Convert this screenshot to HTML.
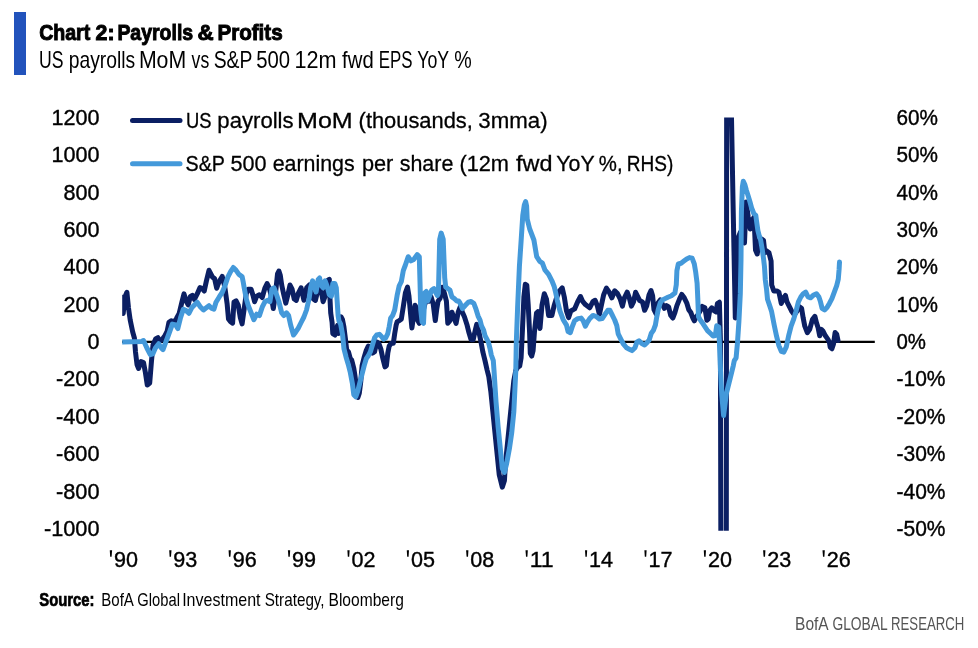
<!DOCTYPE html>
<html><head><meta charset="utf-8"><style>
html,body{margin:0;padding:0;background:#fff;}
body{width:978px;height:648px;overflow:hidden;}
svg{display:block;font-family:"Liberation Sans",sans-serif;will-change:transform;}
</style></head><body>
<svg width="978" height="648" viewBox="0 0 978 648">
<defs><clipPath id="pa"><rect x="122.2" y="117.6" width="760" height="413.19999999999993"/></clipPath></defs>
<rect x="14" y="12" width="12" height="63" fill="#2253bc"/>
<text x="39.14" y="40" font-size="22.8" font-weight="bold" stroke="#000" stroke-width="1.0" fill="#000" textLength="51.11" lengthAdjust="spacingAndGlyphs">Chart</text>
<text x="95.56" y="40" font-size="22.8" font-weight="bold" stroke="#000" stroke-width="1.0" fill="#000" textLength="18.97" lengthAdjust="spacingAndGlyphs">2:</text>
<text x="117.39" y="40" font-size="22.8" font-weight="bold" stroke="#000" stroke-width="1.0" fill="#000" textLength="75.82" lengthAdjust="spacingAndGlyphs">Payrolls</text>
<text x="197.52" y="40" font-size="22.8" font-weight="bold" stroke="#000" stroke-width="1.0" fill="#000" textLength="16.14" lengthAdjust="spacingAndGlyphs">&amp;</text>
<text x="217.39" y="40" font-size="22.8" font-weight="bold" stroke="#000" stroke-width="1.0" fill="#000" textLength="65.30" lengthAdjust="spacingAndGlyphs">Profits</text>
<text x="39.11" y="67.6" font-size="23.6" fill="#000" textLength="24.48" lengthAdjust="spacingAndGlyphs">US</text>
<text x="68.76" y="67.6" font-size="23.6" fill="#000" textLength="66.51" lengthAdjust="spacingAndGlyphs">payrolls</text>
<text x="138.90" y="67.6" font-size="23.6" fill="#000" textLength="47.30" lengthAdjust="spacingAndGlyphs">MoM</text>
<text x="191.60" y="67.6" font-size="23.6" fill="#000" textLength="17.64" lengthAdjust="spacingAndGlyphs">vs</text>
<text x="213.68" y="67.6" font-size="23.6" fill="#000" textLength="38.72" lengthAdjust="spacingAndGlyphs">S&amp;P</text>
<text x="256.24" y="67.6" font-size="23.6" fill="#000" textLength="33.88" lengthAdjust="spacingAndGlyphs">500</text>
<text x="294.47" y="67.6" font-size="23.6" fill="#000" textLength="42.08" lengthAdjust="spacingAndGlyphs">12m</text>
<text x="342.10" y="67.6" font-size="23.6" fill="#000" textLength="31.58" lengthAdjust="spacingAndGlyphs">fwd</text>
<text x="378.67" y="67.6" font-size="23.6" fill="#000" textLength="33.80" lengthAdjust="spacingAndGlyphs">EPS</text>
<text x="417.25" y="67.6" font-size="23.6" fill="#000" textLength="31.88" lengthAdjust="spacingAndGlyphs">YoY</text>
<text x="454.37" y="67.6" font-size="23.6" fill="#000" textLength="17.45" lengthAdjust="spacingAndGlyphs">%</text>
<text x="185.93" y="128.4" font-size="22" stroke="#000" stroke-width="0.3" fill="#000" textLength="25.54" lengthAdjust="spacingAndGlyphs">US</text>
<text x="217.39" y="128.4" font-size="22" stroke="#000" stroke-width="0.3" fill="#000" textLength="76.22" lengthAdjust="spacingAndGlyphs">payrolls</text>
<text x="297.02" y="128.4" font-size="22" stroke="#000" stroke-width="0.3" fill="#000" textLength="55.74" lengthAdjust="spacingAndGlyphs">MoM</text>
<text x="358.61" y="128.4" font-size="22" stroke="#000" stroke-width="0.3" fill="#000" textLength="114.25" lengthAdjust="spacingAndGlyphs">(thousands,</text>
<text x="478.29" y="128.4" font-size="22" stroke="#000" stroke-width="0.3" fill="#000" textLength="69.28" lengthAdjust="spacingAndGlyphs">3mma)</text>
<text x="185.60" y="171.0" font-size="22" stroke="#000" stroke-width="0.3" fill="#000" textLength="39.42" lengthAdjust="spacingAndGlyphs">S&amp;P</text>
<text x="230.42" y="171.0" font-size="22" stroke="#000" stroke-width="0.3" fill="#000" textLength="36.09" lengthAdjust="spacingAndGlyphs">500</text>
<text x="272.63" y="171.0" font-size="22" stroke="#000" stroke-width="0.3" fill="#000" textLength="82.05" lengthAdjust="spacingAndGlyphs">earnings</text>
<text x="361.91" y="171.0" font-size="22" stroke="#000" stroke-width="0.3" fill="#000" textLength="31.39" lengthAdjust="spacingAndGlyphs">per</text>
<text x="399.73" y="171.0" font-size="22" stroke="#000" stroke-width="0.3" fill="#000" textLength="53.59" lengthAdjust="spacingAndGlyphs">share</text>
<text x="459.41" y="171.0" font-size="22" stroke="#000" stroke-width="0.3" fill="#000" textLength="49.60" lengthAdjust="spacingAndGlyphs">(12m</text>
<text x="516.10" y="171.0" font-size="22" stroke="#000" stroke-width="0.3" fill="#000" textLength="36.43" lengthAdjust="spacingAndGlyphs">fwd</text>
<text x="556.33" y="171.0" font-size="22" stroke="#000" stroke-width="0.3" fill="#000" textLength="38.33" lengthAdjust="spacingAndGlyphs">YoY</text>
<text x="598.87" y="171.0" font-size="22" stroke="#000" stroke-width="0.3" fill="#000" textLength="23.79" lengthAdjust="spacingAndGlyphs">%,</text>
<text x="626.67" y="171.0" font-size="22" stroke="#000" stroke-width="0.3" fill="#000" textLength="46.61" lengthAdjust="spacingAndGlyphs">RHS)</text>
<text x="39.29" y="606" font-size="18.4" font-weight="bold" stroke="#000" stroke-width="0.7" fill="#000" textLength="55.20" lengthAdjust="spacingAndGlyphs">Source:</text>
<text x="101.26" y="606" font-size="18.4" fill="#000" textLength="32.63" lengthAdjust="spacingAndGlyphs">BofA</text>
<text x="137.30" y="606" font-size="18.4" fill="#000" textLength="42.64" lengthAdjust="spacingAndGlyphs">Global</text>
<text x="182.16" y="606" font-size="18.4" fill="#000" textLength="78.40" lengthAdjust="spacingAndGlyphs">Investment</text>
<text x="264.67" y="606" font-size="18.4" fill="#000" textLength="59.95" lengthAdjust="spacingAndGlyphs">Strategy,</text>
<text x="328.51" y="606" font-size="18.4" fill="#000" textLength="75.29" lengthAdjust="spacingAndGlyphs">Bloomberg</text>
<text x="795.11" y="629.5" font-size="18.3" fill="#555" textLength="33.59" lengthAdjust="spacingAndGlyphs">BofA</text>
<text x="832.44" y="629.5" font-size="18.3" fill="#555" textLength="55.29" lengthAdjust="spacingAndGlyphs">GLOBAL</text>
<text x="891.06" y="629.5" font-size="18.3" fill="#555" textLength="73.19" lengthAdjust="spacingAndGlyphs">RESEARCH</text>
<text x="99.5" y="124.7" font-size="22.3" text-anchor="end" textLength="48.0" lengthAdjust="spacingAndGlyphs" stroke="#000" stroke-width="0.4">1200</text>
<text x="99.5" y="162.1" font-size="22.3" text-anchor="end" textLength="48.0" lengthAdjust="spacingAndGlyphs" stroke="#000" stroke-width="0.4">1000</text>
<text x="99.5" y="199.5" font-size="22.3" text-anchor="end" textLength="36.0" lengthAdjust="spacingAndGlyphs" stroke="#000" stroke-width="0.4">800</text>
<text x="99.5" y="236.9" font-size="22.3" text-anchor="end" textLength="36.0" lengthAdjust="spacingAndGlyphs" stroke="#000" stroke-width="0.4">600</text>
<text x="99.5" y="274.3" font-size="22.3" text-anchor="end" textLength="36.0" lengthAdjust="spacingAndGlyphs" stroke="#000" stroke-width="0.4">400</text>
<text x="99.5" y="311.6" font-size="22.3" text-anchor="end" textLength="36.0" lengthAdjust="spacingAndGlyphs" stroke="#000" stroke-width="0.4">200</text>
<text x="99.5" y="349.0" font-size="22.3" text-anchor="end" textLength="12.0" lengthAdjust="spacingAndGlyphs" stroke="#000" stroke-width="0.4">0</text>
<text x="99.5" y="386.4" font-size="22.3" text-anchor="end" textLength="43.5" lengthAdjust="spacingAndGlyphs" stroke="#000" stroke-width="0.4">-200</text>
<text x="99.5" y="423.8" font-size="22.3" text-anchor="end" textLength="43.5" lengthAdjust="spacingAndGlyphs" stroke="#000" stroke-width="0.4">-400</text>
<text x="99.5" y="461.2" font-size="22.3" text-anchor="end" textLength="43.5" lengthAdjust="spacingAndGlyphs" stroke="#000" stroke-width="0.4">-600</text>
<text x="99.5" y="498.6" font-size="22.3" text-anchor="end" textLength="43.5" lengthAdjust="spacingAndGlyphs" stroke="#000" stroke-width="0.4">-800</text>
<text x="99.5" y="536.0" font-size="22.3" text-anchor="end" textLength="55.5" lengthAdjust="spacingAndGlyphs" stroke="#000" stroke-width="0.4">-1000</text>
<text x="896.5" y="124.7" font-size="22.3" textLength="41.5" lengthAdjust="spacingAndGlyphs" stroke="#000" stroke-width="0.4">60%</text>
<text x="896.5" y="162.1" font-size="22.3" textLength="41.5" lengthAdjust="spacingAndGlyphs" stroke="#000" stroke-width="0.4">50%</text>
<text x="896.5" y="199.5" font-size="22.3" textLength="41.5" lengthAdjust="spacingAndGlyphs" stroke="#000" stroke-width="0.4">40%</text>
<text x="896.5" y="236.9" font-size="22.3" textLength="41.5" lengthAdjust="spacingAndGlyphs" stroke="#000" stroke-width="0.4">30%</text>
<text x="896.5" y="274.3" font-size="22.3" textLength="41.5" lengthAdjust="spacingAndGlyphs" stroke="#000" stroke-width="0.4">20%</text>
<text x="896.5" y="311.6" font-size="22.3" textLength="41.5" lengthAdjust="spacingAndGlyphs" stroke="#000" stroke-width="0.4">10%</text>
<text x="896.5" y="349.0" font-size="22.3" textLength="29.5" lengthAdjust="spacingAndGlyphs" stroke="#000" stroke-width="0.4">0%</text>
<text x="896.5" y="386.4" font-size="22.3" textLength="49.0" lengthAdjust="spacingAndGlyphs" stroke="#000" stroke-width="0.4">-10%</text>
<text x="896.5" y="423.8" font-size="22.3" textLength="49.0" lengthAdjust="spacingAndGlyphs" stroke="#000" stroke-width="0.4">-20%</text>
<text x="896.5" y="461.2" font-size="22.3" textLength="49.0" lengthAdjust="spacingAndGlyphs" stroke="#000" stroke-width="0.4">-30%</text>
<text x="896.5" y="498.6" font-size="22.3" textLength="49.0" lengthAdjust="spacingAndGlyphs" stroke="#000" stroke-width="0.4">-40%</text>
<text x="896.5" y="536.0" font-size="22.3" textLength="49.0" lengthAdjust="spacingAndGlyphs" stroke="#000" stroke-width="0.4">-50%</text>
<text x="113.9" y="566.8" font-size="22.8" textLength="24.0" lengthAdjust="spacingAndGlyphs" stroke="#000" stroke-width="0.4">90</text>
<path d="M109.8 550.3 L112.1 550.3 L111.6 556.8 L110.2 556.8 Z" fill="#000"/>
<text x="173.3" y="566.8" font-size="22.8" textLength="24.0" lengthAdjust="spacingAndGlyphs" stroke="#000" stroke-width="0.4">93</text>
<path d="M169.2 550.3 L171.5 550.3 L171.0 556.8 L169.6 556.8 Z" fill="#000"/>
<text x="232.7" y="566.8" font-size="22.8" textLength="24.0" lengthAdjust="spacingAndGlyphs" stroke="#000" stroke-width="0.4">96</text>
<path d="M228.6 550.3 L230.9 550.3 L230.4 556.8 L229.0 556.8 Z" fill="#000"/>
<text x="292.1" y="566.8" font-size="22.8" textLength="24.0" lengthAdjust="spacingAndGlyphs" stroke="#000" stroke-width="0.4">99</text>
<path d="M287.9 550.3 L290.2 550.3 L289.8 556.8 L288.4 556.8 Z" fill="#000"/>
<text x="351.5" y="566.8" font-size="22.8" textLength="24.0" lengthAdjust="spacingAndGlyphs" stroke="#000" stroke-width="0.4">02</text>
<path d="M347.4 550.3 L349.6 550.3 L349.2 556.8 L347.8 556.8 Z" fill="#000"/>
<text x="410.9" y="566.8" font-size="22.8" textLength="24.0" lengthAdjust="spacingAndGlyphs" stroke="#000" stroke-width="0.4">05</text>
<path d="M406.8 550.3 L409.0 550.3 L408.6 556.8 L407.2 556.8 Z" fill="#000"/>
<text x="470.3" y="566.8" font-size="22.8" textLength="24.0" lengthAdjust="spacingAndGlyphs" stroke="#000" stroke-width="0.4">08</text>
<path d="M466.1 550.3 L468.4 550.3 L468.0 556.8 L466.6 556.8 Z" fill="#000"/>
<text x="529.7" y="566.8" font-size="22.8" textLength="24.0" lengthAdjust="spacingAndGlyphs" stroke="#000" stroke-width="0.4">11</text>
<path d="M525.5 550.3 L527.8 550.3 L527.4 556.8 L526.0 556.8 Z" fill="#000"/>
<text x="589.1" y="566.8" font-size="22.8" textLength="24.0" lengthAdjust="spacingAndGlyphs" stroke="#000" stroke-width="0.4">14</text>
<path d="M585.0 550.3 L587.2 550.3 L586.8 556.8 L585.4 556.8 Z" fill="#000"/>
<text x="648.5" y="566.8" font-size="22.8" textLength="24.0" lengthAdjust="spacingAndGlyphs" stroke="#000" stroke-width="0.4">17</text>
<path d="M644.4 550.3 L646.6 550.3 L646.2 556.8 L644.8 556.8 Z" fill="#000"/>
<text x="707.9" y="566.8" font-size="22.8" textLength="24.0" lengthAdjust="spacingAndGlyphs" stroke="#000" stroke-width="0.4">20</text>
<path d="M703.8 550.3 L706.0 550.3 L705.6 556.8 L704.2 556.8 Z" fill="#000"/>
<text x="767.3" y="566.8" font-size="22.8" textLength="24.0" lengthAdjust="spacingAndGlyphs" stroke="#000" stroke-width="0.4">23</text>
<path d="M763.1 550.3 L765.4 550.3 L765.0 556.8 L763.6 556.8 Z" fill="#000"/>
<text x="826.7" y="566.8" font-size="22.8" textLength="24.0" lengthAdjust="spacingAndGlyphs" stroke="#000" stroke-width="0.4">26</text>
<path d="M822.5 550.3 L824.8 550.3 L824.4 556.8 L823.0 556.8 Z" fill="#000"/>
<line x1="122" y1="341.9" x2="874.8" y2="341.9" stroke="#000" stroke-width="2.2"/>
<line x1="132.5" y1="120.6" x2="180" y2="120.6" stroke="#0b1f63" stroke-width="5" stroke-linecap="round"/>
<line x1="132.5" y1="163.8" x2="180" y2="163.8" stroke="#4499da" stroke-width="5" stroke-linecap="round"/>
<g clip-path="url(#pa)" fill="none" stroke-linejoin="round" stroke-linecap="round" stroke-width="5">
<polyline stroke="#0b1f63" points="121.5,297 123.2,313.5 124.9,297 126.9,292.3 128.5,308 130.2,320 132.7,332 134.4,338 135.5,352 137,364.5 138.6,368.5 141,361.5 143.5,362.5 145.4,372.5 147.3,385 149.7,383 151.4,362 153,345 155.6,339 157.9,337.7 159.6,341.1 162.1,339.4 164.7,336 167.2,331 168.9,322.4 171.5,320.7 174,322.4 176.6,318.2 179.2,313.3 181.9,302.2 184,293.9 186.1,300.8 188.2,305 190.3,296.7 192.4,295.3 194.4,299.4 197.2,293.9 200,287.6 202.1,288.3 204.2,291.1 206.3,281.4 209,270.3 211.1,274.4 212.5,277.2 214.6,278.6 216.7,288.3 218.1,284.2 220.1,280 222.2,276.5 223.6,281.4 225,288.3 227.1,303.6 228.5,318.9 230.6,321.7 232.6,323.1 234,302.2 236.1,300.8 238.2,305 240.3,317.5 242.1,323.9 244.2,308.6 246.3,293.3 248.3,289.2 251.1,289.2 253.2,296.1 254.6,301.7 256.7,296.1 259.4,294.7 262.2,297.5 265,287.8 267.1,283.6 269.2,287.8 271.3,296.1 273.3,308.6 275.4,294.7 277.5,273.9 278.9,271.1 280.3,275.3 281.7,285 283.8,294.7 285.8,303.1 287.9,294.7 290,285 292.1,289.2 294.2,298.9 296.3,300.3 298.3,293.3 301.1,287.8 303.9,300.3 306.7,287.8 309.4,285 310.6,290 312.5,296 313.3,298.9 315.4,300.3 316.8,294.7 318.9,287.8 321.7,293.3 323.1,301.7 325.1,296.1 327.2,280.8 329.3,279.4 330,298.9 330.7,312.8 332.1,322.5 332.8,333.6 334.9,335 336.3,329.4 337.6,325.3 338.3,333.6 339.7,321.1 341.1,316.9 342.5,319.7 343.9,326.7 345.3,337.8 346.7,350 348.5,352 350.3,358.6 351.7,360 353.8,368.3 355.1,376.7 356.5,387.8 357.9,397.5 359.3,393.3 360.7,382.2 362.1,365.6 364.2,357.2 366.3,350.3 368.3,346.1 370.4,348.9 372.5,353.1 374.6,351.7 376.7,341.9 378.8,343.3 380.8,348.9 382.9,358.6 385,366.9 386.4,365.6 387.8,353.1 389.2,346.1 391.3,343.3 393.3,343.3 394.7,333.6 396.1,325.3 397.1,321.9 399.2,320.6 401.3,319.2 403.3,306.7 405.4,292.8 407.5,287.2 408.9,295.6 410.3,311 411.9,328 413.8,315 415.1,305.3 416.5,308.1 417.9,320.6 419.3,323.3 422.8,312.2 424.9,303.9 426.9,299.7 429,301.1 431.1,296.9 433.2,303.9 435.3,320.6 436.7,309.4 438.1,301.1 440.1,298.3 442.2,287.2 444.3,292.8 446.4,301.1 447.8,323.3 449.9,320.6 451.9,312.2 454,317.8 456.1,323.3 458.2,312.2 460.3,306.7 462.4,312.2 464.5,317 466.9,324.4 469,332.8 471.1,339.7 473.2,339.7 475.3,330 476.7,324.4 478.8,331.4 480.8,341.1 482.9,352.2 485,360.6 487.1,370 488.8,376.7 490.8,391.3 492.9,412.1 495,432.9 497.1,453.8 499.2,474.6 502.3,487.1 504.4,480.8 505.4,464.2 507.5,443.3 509.6,422.5 511.7,401.7 513.8,380.8 515.8,370.4 518,367 519.7,366.1 521.1,357.8 522.5,328.6 523.9,296.7 525.3,284.2 526.8,285.3 528.2,304.7 529.6,332.5 530.3,353.3 531.7,356.1 533.1,350.6 534.4,332.5 536.5,313.1 537.9,311.7 540,328.4 542,305 544.3,293.8 546.5,299.2 548.6,315.4 551.9,315.4 554.1,305.7 556.5,298 558.9,291.6 562.2,287.8 564.3,297 566.5,311 568.6,317.6 570.8,311 574.6,308.9 577.8,301.4 580.5,296.5 582.7,301.4 585.4,304.6 589.7,307.8 593,301.4 595.1,300.3 597.3,305.7 599.4,314.4 601.5,304.7 603.6,295 606.4,288.1 609.2,292.2 611.9,297.8 614.7,290.8 617.5,293.6 620.3,299.2 622.4,306.1 624.4,297.8 627.2,292.2 629.3,297.8 631.4,306.1 633.5,301.9 635.6,292.2 637.6,296.4 639.7,300.6 642.5,301.9 644.6,310.3 646.7,306 649,295 651,290.5 652.6,295.8 654,309.7 656.1,313.9 658.2,302.8 660.3,300 662.4,304.2 664.4,308.3 666.5,305.6 668.6,306.9 670.7,315.3 672.8,318.1 674.9,312.5 676.9,305.6 679.7,298.6 681.8,294.4 683.9,297.2 686.7,302.8 688.8,309.7 690.8,312.5 692.9,318.1 694.3,320.8 696.4,316.7 698.5,313.9 700.6,310 702.1,306.4 704.9,307.8 706.9,320.3 708.3,318.9 709.7,310.6 711.8,307.8 713.9,310.6 716,311.9 717.4,303.6 719.4,302.2 720.4,340 721.2,700 726.2,700 726.8,-100 729.8,60 731.5,118 733,200 735.3,318 737,300 738.5,237 740.5,232 742,236 744.5,243 746.1,202 748.2,216.7 750.3,229 752,221 754,217 755.5,250 757.2,254 759.3,240.3 761.4,239 763.5,240.3 764.9,252.8 766.3,250.7 769,252.8 771.1,261.1 771.7,285 773.8,291 776.9,291 778.9,292.1 781.3,303.5 783,298.6 785.4,295.4 787,301.9 789.4,306.7 791.9,311.6 794.3,314.8 796.7,311.6 799.2,306.7 801.6,308.3 803.2,318.1 804.8,326.2 807.3,332.7 809.7,329.4 812.4,319.6 814.9,316.4 816.5,322.9 818.1,327.7 819.7,335.8 821.3,329.4 823,331 825.4,335.8 827.8,339.1 829.4,342.3 830.2,347.2 831.9,348.8 833.5,343.9 835.1,332.6 836.7,334.2 838,340.5"/>
<polyline stroke="#4499da" points="120,342 141.8,341.5 143.5,340.5 146.9,348 150.3,354.7 152.8,353.9 155.4,348 158.7,343.7 161.3,348 163,349.6 165.5,342.8 168.1,336 170.6,329.2 172.3,324.1 175.7,325 177.8,328.6 180.6,317.5 183.3,309.2 186.1,310.6 188.9,313.3 191.7,307.8 194.4,305 197.2,302.2 200,306.4 203.5,309.9 206.3,307.8 209,305.7 211.8,308.5 213.9,309.2 216,302.2 219.4,296.7 222.2,292.5 225,285.6 227.8,277.2 230.6,271.7 233.3,267.5 236.1,270.3 238.9,274.4 241,275.8 242.1,276.5 243.1,281.4 244.2,287.8 246.3,298.9 248.3,305.8 251.1,312.8 253.9,319.7 256.7,314.2 259.4,315.6 262.2,307.2 265,301.7 267.8,300.3 269.9,301.7 271.9,289.2 274,287.8 276.1,293.3 278.9,301.7 281.7,312.8 283.8,315.6 286.5,312.8 288.6,315.6 290.7,325.3 293.5,335 295.6,332.2 298.3,328.1 301.1,322.5 303.9,317 306.5,310 309.2,298 310.6,287.8 312.6,280.8 314,285 316.1,291.9 318.2,279.4 319.6,278 321,285 323.1,287.8 325.1,280.8 327.2,286.4 329.3,294.7 331.4,296.1 332.8,283.6 334.9,283.6 336.3,287.8 337.2,301.7 338.1,315.6 339,321.1 340.6,323.9 342.6,335 344,348.9 346.1,357.2 348.2,364.2 350.3,372.5 352.4,383.6 353.8,394.7 355.8,396.8 357.9,390.6 360,382.2 362.1,373.9 364.2,365.6 366.3,358.6 368.3,355.8 370.4,351.7 372.5,344.7 374.6,337.8 376.7,335 379.4,334.3 381.5,336.4 383.6,339.2 385.7,337.8 387.8,333.6 389.2,326.7 390.6,318.3 392.6,315.6 394.7,310 397.1,295.6 399.2,285.8 401.3,281.7 403.3,270.6 405.4,265 408.2,256.7 411,260.8 413.8,259.4 417.2,254.6 419.3,256.7 420,281.7 420.7,309.4 422.1,321.9 423.5,323.3 424.9,292.8 426.3,291.4 427.6,301.1 429.7,295.6 431.8,290 433.9,288.6 436,292.8 437.4,295.6 438.4,293.2 439.7,239.3 441.2,233.1 443.2,239.3 444.7,277.8 445.7,287 447.8,288.6 449.9,290 451.9,296.9 454,298.3 456.8,301.1 458.6,300.9 460,303 462.4,308.6 465.6,305 468.3,302.2 471.1,301.5 473.9,303.6 476,309.2 478.1,316.1 480.1,320.3 481.5,325.8 483.6,330 485,335.6 487.1,339.7 488.5,342.5 489.9,348.1 491.3,355 493.3,360.6 494,370.4 496,401.7 498.1,426.7 500.2,447.5 502.3,468.3 504.4,472.5 506.5,464.2 509.6,447.5 511.7,432.9 513.8,412.1 514.8,391.3 515.8,370.4 516.3,342.5 517.6,307.8 519.4,266.5 521.1,241 522.8,215 524.3,205 525.6,201.5 526.6,206 527.2,219 529.7,229 533.9,240 536.7,256.7 539.8,261.4 539.8,261.4 542.4,263.1 544.9,269.9 548.6,274.3 551.9,280.8 554.1,286.2 555.7,292.7 557.3,300.3 560,311.1 563.2,319.7 566.5,325.1 568.1,331.6 570.3,332.7 572.4,326.2 574.6,320.8 577.8,318.6 581.1,318.1 583.2,320.8 585.4,326.2 587.6,321.9 589.7,318.6 593,315.4 596.2,316.5 599.4,319 602.2,318.6 605,314.4 607.8,310.3 609.9,310.3 611.9,314.4 614.7,320 616.8,325.6 618.2,333.9 620.3,338.1 623.1,343.6 626.5,347.8 629.3,349.2 632.1,350.6 634.9,347.8 636.9,342.2 639,340.8 641.8,343.6 644.6,345 647.4,342.2 649.2,340 651.3,333.3 653.3,330.6 655.4,325 656.8,316.7 658.2,309.7 660.3,302.8 662.4,300 665.1,298.6 667.9,297.2 671.4,295.8 674.9,293.1 676.3,284.7 676.9,270.8 678.3,263.9 681.1,263.2 683.9,261.1 686.7,259 689.4,257.6 692.2,258.3 694.3,263.9 695.7,272.2 697.1,283.3 697.8,298.6 698.5,316.7 699.9,319.4 701.9,322.2 704.7,326.4 707.5,330.6 710.3,333.3 713.1,336.1 715.3,335.6 716.7,325.8 718.8,327.2 719.4,342.5 720.5,370 721.8,395 723.6,415.6 726.4,393.3 730.6,376.7 733.3,365.6 734.3,360.6 736.1,357.8 737.5,342.5 738.9,321.7 740.3,293.9 741,260 741.4,211.7 742.4,186.7 743.3,181.2 744.8,184.5 746.3,190 748.2,196 750,202 751.6,208 753.8,213.5 755.8,215.3 756.5,220.8 757.9,230.6 759.3,236.1 760.7,240.3 762.1,248.6 763.5,258.3 764.5,267 765.3,280 766.5,288.8 767.5,299.2 769.6,305.4 771.6,311.6 774.1,324.6 776.5,335.9 778.9,345.6 781.3,351.3 783.8,352.1 786.2,347.2 788.6,335.9 791.1,326.2 793.5,319.7 795.9,311.6 798.4,301.9 800.8,297 803.2,293.8 805.7,292.1 808.1,297 810.5,297.8 813.2,295.3 816.5,293.7 818.9,297 820.5,301.8 822.1,308.3 824.6,309.9 827,307.5 829.4,303.4 831.9,298.6 834.3,292.1 836.7,285.6 838.3,279.1 839.1,269.4 839.5,262.1"/>
</g>
</svg>
</body></html>
